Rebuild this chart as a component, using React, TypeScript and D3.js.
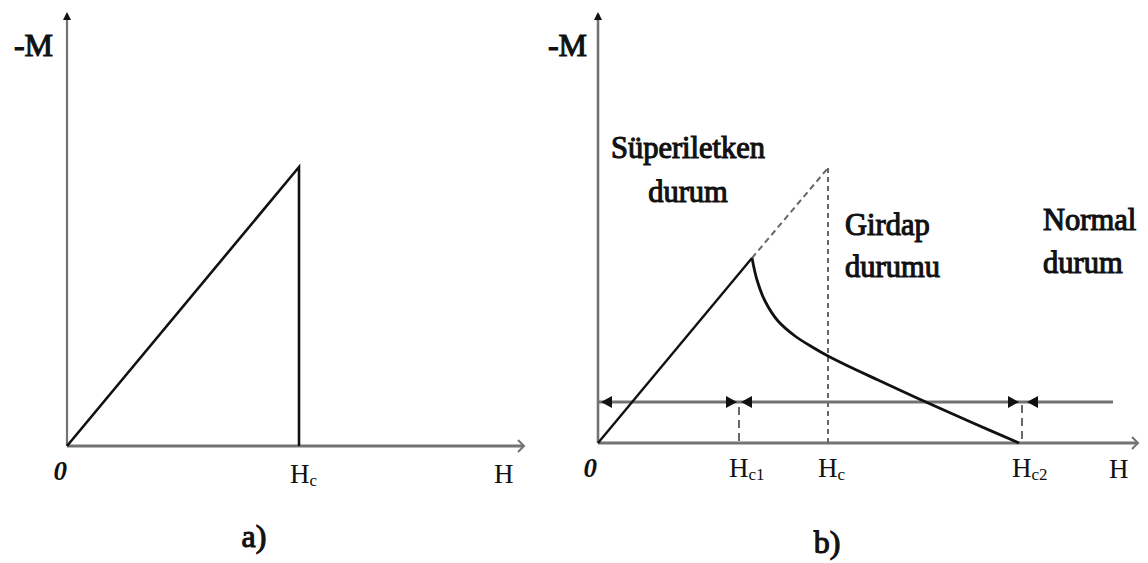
import React from "react";
import * as d3 from "d3";

// ---- Panel a: ideal type-I superconductor ----
const aAxisMaxH = 4.57;
const aAxisMaxM = 4.34;
const aHc = 2.32;
const aPeakM = 2.79;
const aCurve: [number, number][] = [
  [0, 0],
  [aHc, aPeakM],
  [aHc, 0],
];

// ---- Panel b: type-II superconductor ----
const bAxisMaxH = 5.4;
const bAxisMaxM = 4.31;
const bHc1 = 1.41;
const bHc = 2.3;
const bHc2 = 4.24;
const bRise: [number, number][] = [
  [0, 0],
  [1.54, 1.85],
];
const bFall: [number, number][] = [
  [1.54, 1.85],
  [1.59, 1.63],
  [1.67, 1.42],
  [1.8, 1.22],
  [1.97, 1.07],
  [2.15, 0.955],
  [2.3, 0.87],
  [2.5, 0.77],
  [2.8, 0.63],
  [3.2, 0.445],
  [3.75, 0.2],
  [4.21, 0],
];
const bExtrapolated: [number, number][] = [
  [1.54, 1.85],
  [2.3, 2.75],
];
const bArrowLevel = 0.41;
const bArrowEnd = 5.15;

const regionLabels = [
  { lines: ["Süperiletken", "durum"], h: 0.9, m: [2.85, 2.41], anchor: "middle" },
  { lines: ["Girdap", "durumu"], h: 2.47, m: [2.08, 1.66], anchor: "start" },
  { lines: ["Normal", "durum"], h: 4.45, m: [2.13, 1.7], anchor: "start" },
];

const bTicks = [
  { h: 0, label: "0", sub: "" },
  { h: bHc1, label: "H", sub: "c1" },
  { h: bHc, label: "H", sub: "c" },
  { h: bHc2, label: "H", sub: "c2" },
];

const SERIF = "'Liberation Serif', 'Times New Roman', serif";
const AXIS = "#737373";
const INK = "#111";

// heavy serif lettering
const heavy = { fill: INK, stroke: INK, strokeWidth: 1.1, paintOrder: "stroke" } as const;

function Chevron({ x, y }: { x: number; y: number }) {
  return (
    <path
      d={`M${x - 6},${y - 6} L${x},${y} L${x - 6},${y + 6}`}
      fill="none"
      stroke={AXIS}
      strokeWidth={2}
    />
  );
}

function UpTip({ x, y }: { x: number; y: number }) {
  return <path d={`M${x - 4},${y + 8} L${x},${y} L${x + 4},${y + 8} Z`} fill={INK} />;
}

function Head({ x, y, dir }: { x: number; y: number; dir: 1 | -1 }) {
  // filled triangle whose tip is at (x, y), pointing in dir along H
  const b = x - dir * 11;
  return <path d={`M${x},${y} L${b},${y - 6} L${b},${y + 6} Z`} fill={INK} />;
}

export default function App() {
  const xA = d3.scaleLinear().domain([0, aAxisMaxH]).range([67, 524]);
  const yA = d3.scaleLinear().domain([0, aAxisMaxM]).range([446, 12]);
  const xB = d3.scaleLinear().domain([0, bAxisMaxH]).range([598, 1138]);
  const yB = d3.scaleLinear().domain([0, bAxisMaxM]).range([443, 12]);

  const lineA = d3
    .line<[number, number]>()
    .x((d) => xA(d[0]))
    .y((d) => yA(d[1]));
  const lineB = d3
    .line<[number, number]>()
    .x((d) => xB(d[0]))
    .y((d) => yB(d[1]));
  const curveB = d3
    .line<[number, number]>()
    .x((d) => xB(d[0]))
    .y((d) => yB(d[1]))
    .curve(d3.curveCatmullRom.alpha(0.5));

  const arrowY = yB(bArrowLevel);

  return (
    <svg
      width={1148}
      height={563}
      style={{ position: "absolute", left: 0, top: 0, background: "#fff" }}
      fontFamily={SERIF}
    >
      {/* ---------- panel a ---------- */}
      <line x1={xA(0)} y1={yA(0)} x2={xA(0)} y2={yA(aAxisMaxM) + 2} stroke={AXIS} strokeWidth={2.2} />
      <UpTip x={xA(0)} y={yA(aAxisMaxM)} />
      <line x1={xA(0)} y1={yA(0)} x2={xA(aAxisMaxH)} y2={yA(0)} stroke={AXIS} strokeWidth={3} />
      <Chevron x={xA(aAxisMaxH)} y={yA(0)} />
      <path d={lineA(aCurve) ?? ""} fill="none" stroke={INK} strokeWidth={2.6} strokeLinejoin="miter" />

      <text x={53} y={56} fontSize={32} textAnchor="end" {...heavy}>-M</text>
      <text x={xA(0)} y={480} fontSize={27} fontWeight="bold" fontStyle="italic" textAnchor="end" fill={INK}>0</text>
      <text x={xA(aHc) - 9} y={483} fontSize={27} fill={INK}>
        H<tspan fontSize={17} dy={3}>c</tspan>
      </text>
      <text x={494} y={483} fontSize={27} fill={INK}>H</text>
      <text x={254} y={547} fontSize={32} textAnchor="middle" {...heavy}>a)</text>

      {/* ---------- panel b ---------- */}
      <line x1={xB(0)} y1={yB(0)} x2={xB(0)} y2={yB(bAxisMaxM) + 2} stroke={AXIS} strokeWidth={2.6} />
      <UpTip x={xB(0)} y={yB(bAxisMaxM)} />
      <line x1={xB(0)} y1={yB(0)} x2={xB(bAxisMaxH)} y2={yB(0)} stroke={AXIS} strokeWidth={3} />
      <Chevron x={xB(bAxisMaxH)} y={yB(0)} />

      {/* dashed guides */}
      <path d={lineB(bExtrapolated) ?? ""} fill="none" stroke="#666" strokeWidth={2} strokeDasharray="6 4" />
      <line x1={xB(bHc)} y1={yB(2.75)} x2={xB(bHc)} y2={yB(0)} stroke="#666" strokeWidth={2} strokeDasharray="5 4" />
      <line x1={xB(bHc1)} y1={arrowY + 5} x2={xB(bHc1)} y2={yB(0)} stroke="#444" strokeWidth={1.6} strokeDasharray="8 5" />
      <line x1={xB(bHc2)} y1={arrowY + 3} x2={xB(bHc2)} y2={yB(0)} stroke="#444" strokeWidth={1.6} strokeDasharray="8 5" />

      {/* region arrows */}
      <line x1={xB(0)} y1={arrowY} x2={xB(bArrowEnd)} y2={arrowY} stroke={AXIS} strokeWidth={3} />
      <Head x={xB(0) + 3} y={arrowY} dir={-1} />
      <Head x={xB(bHc1) - 2} y={arrowY} dir={1} />
      <Head x={xB(bHc1) + 2} y={arrowY} dir={-1} />
      <Head x={xB(bHc2) - 3} y={arrowY} dir={1} />
      <Head x={xB(bHc2) + 5} y={arrowY} dir={-1} />

      {/* magnetization curve */}
      <path d={lineB(bRise) ?? ""} fill="none" stroke={INK} strokeWidth={2.4} />
      <path d={curveB(bFall) ?? ""} fill="none" stroke={INK} strokeWidth={2.8} />

      <text x={587} y={56} fontSize={32} textAnchor="end" {...heavy}>-M</text>
      {bTicks.map((t, i) =>
        t.sub === "" ? (
          <text key={i} x={xB(t.h) - 1} y={477} fontSize={27} fontWeight="bold" fontStyle="italic" textAnchor="end" fill={INK}>
            {t.label}
          </text>
        ) : (
          <text key={i} x={xB(t.h) - 10} y={477} fontSize={27} fill={INK}>
            {t.label}
            <tspan fontSize={17} dy={3}>{t.sub}</tspan>
          </text>
        )
      )}
      <text x={1109} y={478} fontSize={27} fill={INK}>H</text>

      {regionLabels.map((r, i) => (
        <text key={i} fontSize={30.5} textAnchor={r.anchor} {...heavy}>
          {r.lines.map((ln, j) => (
            <tspan key={j} x={xB(r.h)} y={yB(r.m[j])}>
              {ln}
            </tspan>
          ))}
        </text>
      ))}

      <text x={827} y={553} fontSize={32} textAnchor="middle" {...heavy}>b)</text>
    </svg>
  );
}
